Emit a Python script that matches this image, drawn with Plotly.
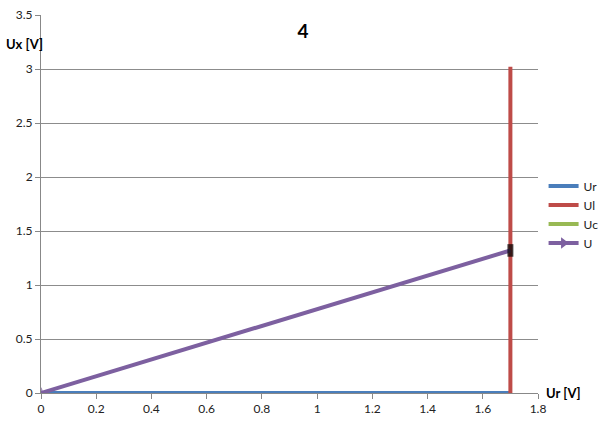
import plotly.graph_objects as go

title_text = "4"
ur_x = [0, 1.7]
ur_y = [0, 0]
ul_x = [1.7, 1.7]
ul_y = [0, 3.02]
uc_x = [1.7, 1.7]
uc_y = [1.32, 1.32]
u_x = [0, 1.7]
u_y = [0, 1.32]

x_ticks = [0, 0.2, 0.4, 0.6, 0.8, 1, 1.2, 1.4, 1.6, 1.8]
y_ticks = [0, 0.5, 1, 1.5, 2, 2.5, 3, 3.5]

fig = go.Figure()
fig.add_trace(go.Scatter(x=ur_x, y=ur_y, mode="lines", name="Ur",
                         line=dict(color="#4a7ebb", width=4)))
fig.add_trace(go.Scatter(x=ul_x, y=ul_y, mode="lines", name="Ul",
                         line=dict(color="#be4b48", width=4)))
fig.add_trace(go.Scatter(x=uc_x, y=uc_y, mode="lines", name="Uc",
                         line=dict(color="#98b954", width=4)))
fig.add_trace(go.Scatter(x=u_x, y=u_y, mode="lines+markers", name="U",
                         legendgroup="U", showlegend=False,
                         line=dict(color="#7d60a0", width=4),
                         marker=dict(symbol=["triangle-right", "line-ns"],
                                     angle=[163, 0], size=[9, 9],
                                     color=["#7d60a0", "black"],
                                     line=dict(color=["#7d60a0", "black"], width=[0, 6]))))
# legend-only entry for U (arrow pointing right)
fig.add_trace(go.Scatter(x=[None], y=[None], mode="lines+markers", name="U",
                         legendgroup="U",
                         line=dict(color="#7d60a0", width=4),
                         marker=dict(symbol="triangle-right", size=10, color="#7d60a0")))

fig.update_layout(
    width=606, height=430,
    margin=dict(l=41, r=68, t=15, b=37),
    plot_bgcolor="white", paper_bgcolor="white",
    font=dict(family="Lato, Carlito, sans-serif", size=12, color="#222"),
    title=dict(text="<b>" + title_text + "</b>", x=0.5, xanchor="center",
               y=0.928, yanchor="middle", font=dict(size=19, color="black"),
               automargin=False),
    showlegend=True,
    legend=dict(xref="container", yref="container", x=0.897, y=0.501,
                xanchor="left", yanchor="middle",
                font=dict(size=12), itemwidth=30, tracegroupgap=0,
                bgcolor="rgba(0,0,0,0)"),
    xaxis=dict(range=[0, 1.8], tickvals=x_ticks,
               ticktext=[str(v) for v in x_ticks], automargin=False,
               showgrid=False, zeroline=False, showline=True,
               linecolor="#888", linewidth=1, ticks="outside", ticklen=5,
               tickcolor="#888", fixedrange=True),
    yaxis=dict(range=[0, 3.5], tickvals=y_ticks,
               ticktext=[str(v) for v in y_ticks], automargin=False,
               showgrid=True, gridcolor="#8c8c8c", gridwidth=1,
               zeroline=False, showline=True, linecolor="#888", linewidth=1,
               ticks="outside", ticklen=5, tickcolor="#888", fixedrange=True),
)

fig.add_annotation(text="<b>Ux [V]</b>", xref="paper", yref="paper",
                   x=-0.074, y=0.922, xanchor="left", yanchor="middle",
                   showarrow=False, font=dict(size=13, color="black"))
fig.add_annotation(text="<b>Ur [V]</b>", xref="paper", yref="paper",
                   x=1.012, y=0.0, xanchor="left", yanchor="middle",
                   showarrow=False, font=dict(size=13, color="black"))

fig.write_html("out.html", config={"displayModeBar": False},
               post_script="document.body.style.margin='0px';")
